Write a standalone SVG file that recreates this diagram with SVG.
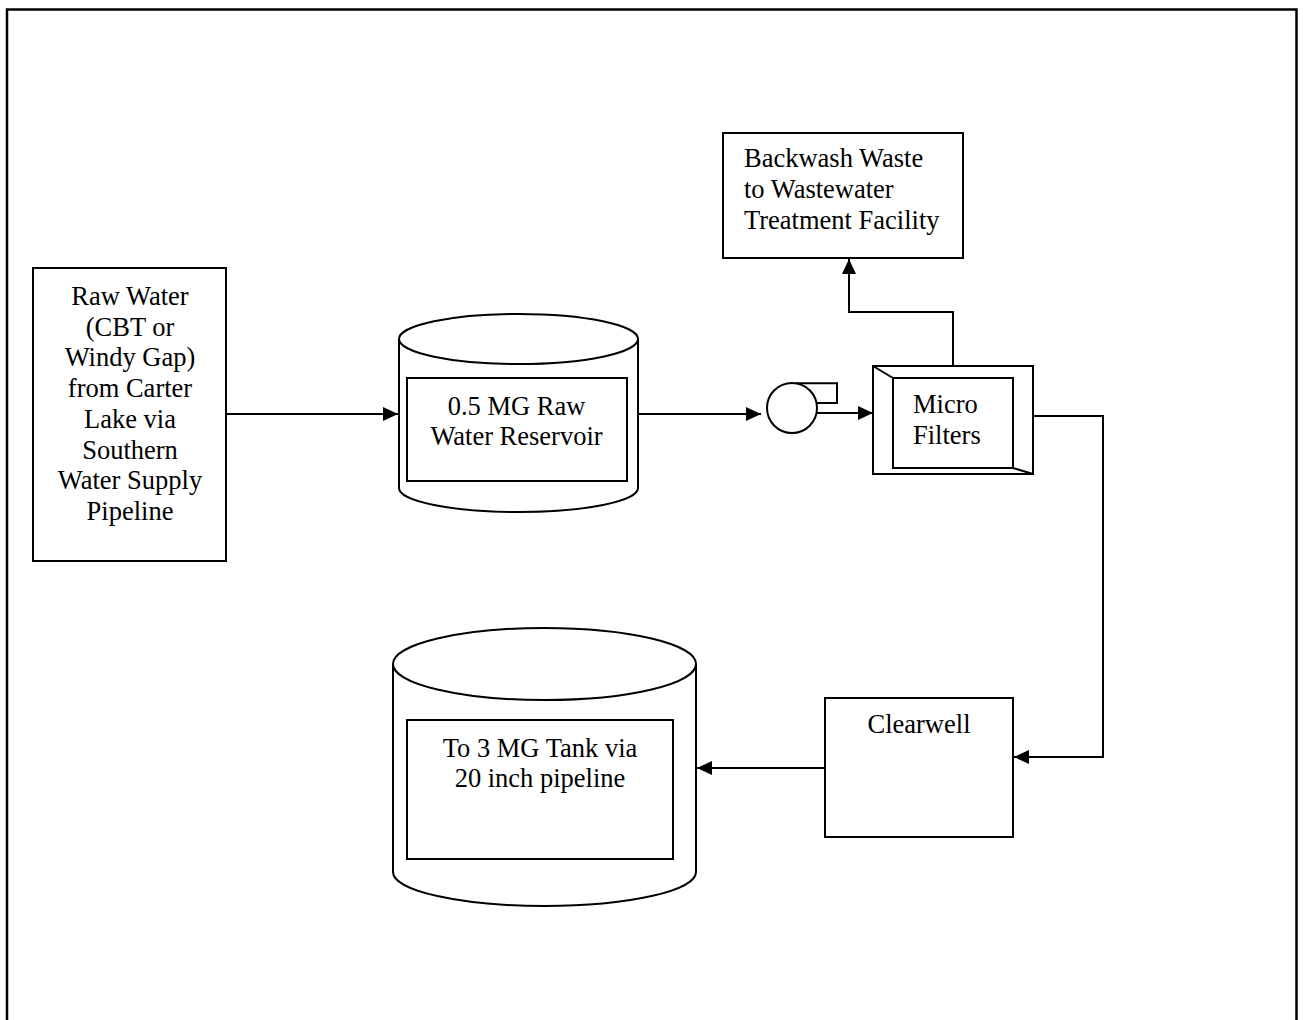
<svg xmlns="http://www.w3.org/2000/svg" width="1303" height="1020" viewBox="0 0 1303 1020">
<style>
.s{fill:none;stroke:#000;stroke-width:2}
.b{fill:#fff;stroke:#000;stroke-width:2}
text{font-family:"Liberation Serif","Times New Roman",serif;font-size:26.5px;fill:#000}
.c{text-anchor:middle}
</style>
<defs>
<marker id="ah" markerUnits="userSpaceOnUse" markerWidth="16" markerHeight="16" viewBox="0 0 16 16" refX="15" refY="8" orient="auto">
<path d="M0,1 L15,8 L0,15 Z" fill="#000"/>
</marker>
</defs>
<rect x="0" y="0" width="1303" height="1020" fill="#fff"/>
<rect id="frame" x="7" y="9.5" width="1289.5" height="1030" fill="none" stroke="#000" stroke-width="2.5"/>

<g id="raw-water">
<rect x="33" y="268" width="193" height="293" class="b"/>
<text class="c" x="130" y="305">Raw Water</text>
<text class="c" x="130" y="335.7">(CBT or</text>
<text class="c" x="130" y="366.4">Windy Gap)</text>
<text class="c" x="130" y="397.1">from Carter</text>
<text class="c" x="130" y="427.8">Lake via</text>
<text class="c" x="130" y="458.5">Southern</text>
<text class="c" x="130" y="489.2">Water Supply</text>
<text class="c" x="130" y="519.9">Pipeline</text>
</g>

<g id="reservoir">
<path d="M399,339 V488 A119.5,24 0 0 0 638,488 V339" class="b"/>
<ellipse cx="518.5" cy="339" rx="119.5" ry="25" class="b"/>
<rect x="407" y="378" width="220" height="103" class="b"/>
<text class="c" x="516.5" y="415">0.5 MG Raw</text>
<text class="c" x="516.5" y="445">Water Reservoir</text>
</g>

<g id="pump">
<path d="M796,383.3 H837 V403 H816.5" class="s"/>
<circle cx="792" cy="408" r="25" class="b"/>
</g>

<g id="micro-filters">
<rect x="873" y="366" width="160" height="108" class="b"/>
<rect x="893" y="378" width="120" height="90" class="b"/>
<line x1="873" y1="366" x2="893" y2="378" class="s"/>
<line x1="1013" y1="468" x2="1033" y2="474" class="s"/>
<text x="913" y="413">Micro</text>
<text x="913" y="444">Filters</text>
</g>

<g id="backwash">
<rect x="723" y="133" width="240" height="125" class="b"/>
<text x="744" y="167">Backwash Waste</text>
<text x="744" y="198">to Wastewater</text>
<text x="744" y="229">Treatment Facility</text>
</g>

<g id="clearwell">
<rect x="825" y="698" width="188" height="139" class="b"/>
<text class="c" x="919" y="733">Clearwell</text>
</g>

<g id="tank">
<path d="M393,664 V872 A151.5,34 0 0 0 696,872 V664" class="b"/>
<ellipse cx="544.5" cy="664" rx="151.5" ry="36" class="b"/>
<rect x="407" y="720" width="266" height="139" class="b"/>
<text class="c" x="540" y="757">To 3 MG Tank via</text>
<text class="c" x="540" y="787">20 inch pipeline</text>
</g>

<g id="connectors">
<path d="M226,414 H398" class="s" marker-end="url(#ah)"/>
<path d="M638,414 H761" class="s" marker-end="url(#ah)"/>
<path d="M817,413 H873" class="s" marker-end="url(#ah)"/>
<path d="M953,366 V312 H849 V259" class="s" marker-end="url(#ah)"/>
<path d="M1033,416 H1103 V757 H1014" class="s" marker-end="url(#ah)"/>
<path d="M825,768 H697" class="s" marker-end="url(#ah)"/>
</g>
</svg>
